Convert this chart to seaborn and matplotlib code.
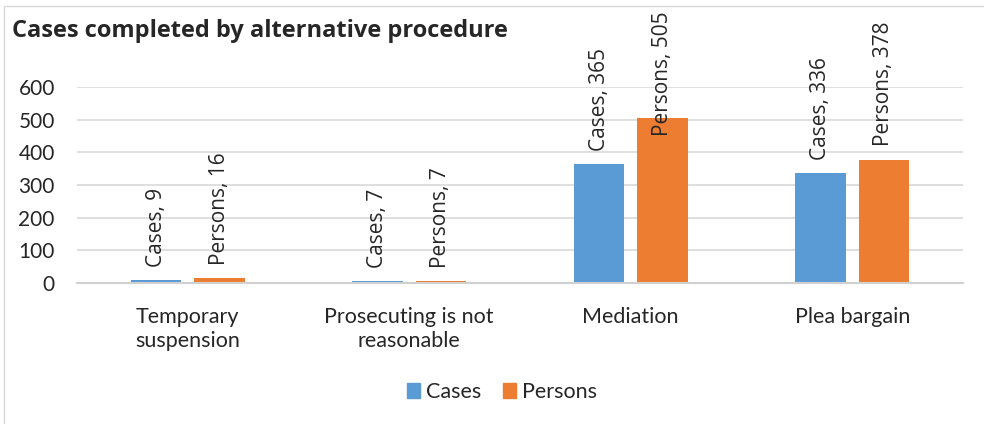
import pandas as pd
import numpy as np
import matplotlib.pyplot as plt
import seaborn as sns
from matplotlib.patches import Rectangle

# Data
categories = ["Temporary\nsuspension", "Prosecuting is not\nreasonable", "Mediation", "Plea bargain"]
cases = [9, 7, 365, 336]
persons = [16, 7, 505, 378]
series = ["Cases", "Persons"]
colors = ["#5B9BD5", "#ED7D31"]

df = pd.DataFrame({
    "category": categories * 2,
    "series": ["Cases"] * len(categories) + ["Persons"] * len(categories),
    "value": cases + persons,
})

sns.set_style("white")
plt.rcParams["font.family"] = ["Lato", "DejaVu Sans"]

fig = plt.figure(figsize=(9.84, 4.24), dpi=100)
ax = fig.add_axes([77 / 984, 141 / 424, 886 / 984, 196 / 424])

sns.barplot(data=df, x="category", y="value", hue="series", hue_order=series,
            palette=colors, width=0.57, gap=0.2, ax=ax, saturation=1,
            linewidth=0)

ax.set_ylim(0, 600)
ax.set_xlim(-0.5, 3.5)
ax.set_yticks(range(0, 601, 100))
ax.yaxis.grid(True, color="#d9d9d9", linewidth=1.2)
ax.set_axisbelow(True)
for s in ["top", "right", "left"]:
    ax.spines[s].set_visible(False)
ax.spines["bottom"].set_color("#d0d0d0")
ax.spines["bottom"].set_linewidth(1.5)
ax.tick_params(axis="y", length=0, pad=16, labelsize=15, labelcolor="#262626")
ax.tick_params(axis="x", length=0, pad=17, labelsize=15.5, labelcolor="#262626")
for lbl in ax.get_xticklabels():
    lbl.set_linespacing(1.3)
ax.set_xlabel("")
ax.set_ylabel("")

# data labels (Excel keeps them inside the chart area)
for container, name in zip(ax.containers, series):
    for bar in container:
        v = bar.get_height()
        x = bar.get_x() + bar.get_width() / 2
        ax.annotate(f"{name}, {int(round(v))}", xy=(x, min(v, 409)),
                    xytext=(0, 9.5), textcoords="offset points",
                    rotation=90, ha="center", va="bottom",
                    fontsize=15, family=["Open Sans", "DejaVu Sans"],
                    color="#262626", annotation_clip=False)

ax.legend_.remove()
handles = [Rectangle((0, 0), 1, 1, color=c) for c in colors]
fig.legend(handles, series, loc="center", bbox_to_anchor=(502 / 984, 1 - 392 / 424),
           ncol=2, frameon=False, fontsize=15.5, handlelength=0.6, handleheight=0.75,
           handletextpad=0.3, columnspacing=1.0, labelcolor="#262626")

fig.text(12 / 984, 1 - 31 / 424, "Cases completed by alternative procedure",
         fontsize=17, fontweight="bold", color="#262626", va="center", ha="left",
         family=["Open Sans", "DejaVu Sans"])

fig.patches.append(Rectangle((4 / 984, -0.02), 1.0, 1 - 6 / 424 + 0.02,
                             transform=fig.transFigure, fill=False,
                             edgecolor="#d9d9d9", linewidth=1))

fig.savefig("out.png", dpi=100)
